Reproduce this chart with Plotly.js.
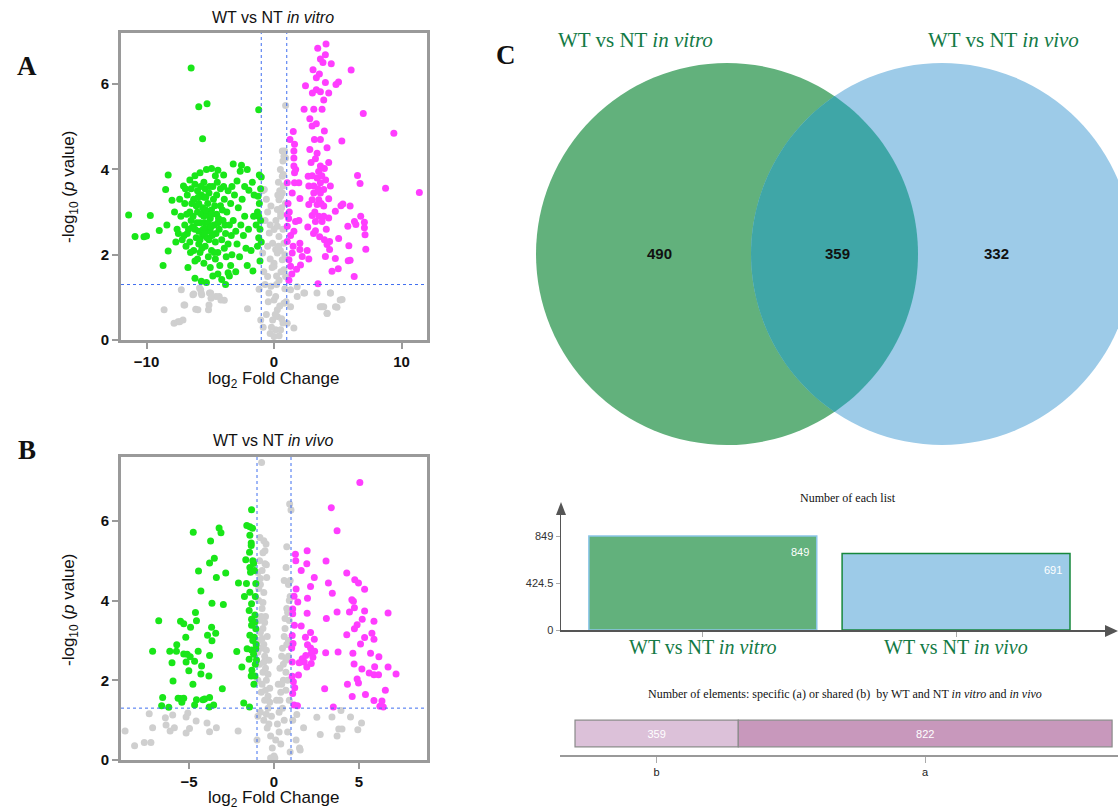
<!DOCTYPE html>
<html><head><meta charset="utf-8">
<script src="https://cdn.plot.ly/plotly-3.0.1.min.js"></script>
<style>html,body{margin:0;padding:0;background:#fff}#chart{width:1118px;height:810px}</style>
</head><body><div id="chart"></div>
<script>
// ---------- DATA ----------
// Panel A: WT vs NT in vitro  [log2FC, -log10 p]
const aDown = [[-6.5,6.38],[-5.9,5.47],[-5.25,5.54],[-5.6,4.72],[-1.2,5.4],
[-11.4,2.93],[-10.9,2.43],[-10.2,2.42],[-10.0,2.44],[-9.7,2.92],[-9.0,2.57],[-8.7,1.75],[-8.3,3.87],[-8.5,3.53],[-8.0,3.28],[-8.3,2.09],[-8.4,2.7],[-7.6,2.6],
[-7.1,3.61],[-6.6,3.75],[-5.8,3.92],[-5.3,4.0],[-4.9,4.02],[-4.4,3.98],[-3.95,3.87],[-3.2,4.13],[-2.55,4.1],[-2.1,4.0],[-2.65,3.96],[-2.9,3.73],[-1.15,3.87],[-1.0,3.82],[-4.6,3.85],[-5.5,3.7],[-6.2,3.85],
[-1.97,3.51],[-1.56,3.4],[-1.25,3.37],[-1.3,3.0],[-1.2,2.9],[-1.05,2.8],[-1.4,2.7],[-1.1,2.6],[-1.2,2.4],[-1.0,2.3],[-1.8,2.1],[-2.1,1.75],[-1.65,1.62],[-1.1,1.85],[-1.3,2.2],[-1.15,3.2],[-1.05,3.55],
[-2.5,3.3],[-2.8,3.1],[-2.3,2.9],[-2.6,2.7],[-3.0,2.55],[-2.4,2.45],[-2.9,2.25],[-2.2,2.15],[-3.3,2.0],[-2.7,1.95],[-3.4,1.75],[-3.0,1.6],[-3.5,1.5],[-3.8,1.3],[-4.1,1.42],[-3.6,1.58],[-4.4,1.55],[-4.8,1.5],[-5.3,1.35],[-5.7,1.38],[-6.2,1.45],[-5.0,1.7],[-5.5,1.8],[-6.0,1.9],[-4.6,1.9],[-5.8,2.05],
[-7.0,3.2],[-6.6,3.0],[-6.3,3.3],[-6.0,3.5],[-5.7,3.4],[-5.4,3.55],[-5.1,3.45],[-4.8,3.6],[-4.5,3.4],[-4.2,3.55],[-3.9,3.3],[-3.6,3.5],[-3.3,3.6],[-7.3,2.9],[-7.0,2.7],[-6.8,2.5],[-6.5,2.8],[-6.2,2.6],[-6.0,3.0],[-5.8,2.75],[-5.6,3.1],[-5.5,2.9],[-5.3,2.6],[-5.2,3.2],[-5.0,2.85],[-4.9,3.05],[-4.7,2.7],[-4.5,2.95],[-4.3,2.6],[-4.2,3.15],[-4.0,2.8],[-3.8,2.5],[-3.7,3.0],[-3.5,2.7],[-3.4,3.2],[-7.2,2.35],[-6.9,2.2],[-6.6,2.3],[-6.3,2.1],[-6.1,2.4],[-5.9,2.25],[-5.6,2.45],[-5.4,2.2],[-5.1,2.35],[-4.9,2.1],[-4.6,2.3],[-4.4,2.05],[-4.1,2.35],[-3.9,2.15],[-6.4,2.65],[-5.9,2.55],[-5.45,2.75],[-5.7,2.95],[-6.1,3.15],[-5.0,2.55],[-4.75,3.3],[-5.25,2.95],[-6.7,2.6],[-7.5,2.5],[-7.8,3.0],[-7.7,2.3],[-3.2,2.8],[-3.1,3.4],[-6.35,2.9],[-5.55,2.6],[-4.55,2.5],[-6.85,2.95],
[-6.8,3.4],[-6.5,3.55],[-6.2,3.65],[-5.9,3.2],[-5.75,3.6],[-5.5,3.35],[-5.35,3.05],[-5.15,2.75],[-5.05,3.6],[-4.85,2.45],[-4.65,3.15],[-4.35,2.85],[-4.05,3.05],[-3.85,2.7],[-3.6,2.25],[-3.35,2.45],[-6.55,2.05],[-6.2,1.85],[-5.65,2.15],[-5.25,2.4],[-4.95,2.65],[-4.7,2.05],[-6.05,2.75],[-6.45,3.2],[-5.95,3.35],[-5.35,3.35],[-4.45,3.7],[-3.95,3.6],[-7.05,2.45],[-7.4,3.3],[-6.75,1.7],[-4.25,1.75],[-3.75,1.95],[-5.15,1.95],[-5.8,2.35],[-5.45,2.5],[-4.9,2.95],[-4.4,2.75],[-6.95,3.55],[-2.0,2.6],[-1.6,2.9],[-1.7,3.7],[-2.3,3.6]];
const aUp = [[4.08,6.94],[3.43,6.84],[4.03,6.69],[3.64,6.59],[3.84,6.51],[4.49,6.48],[6.05,6.33],[3.06,6.34],[3.56,6.24],[3.32,6.15],[4.03,6.04],[5.06,6.05],[4.86,5.99],[2.47,5.96],[3.32,5.87],[3.01,5.79],[3.64,5.82],[4.29,5.79],[3.9,5.63],[3.77,5.41],[2.36,5.41],[3.12,5.41],[7.0,5.31],[2.81,5.19],[2.99,5.02],[3.32,5.07],[3.95,4.9],[1.51,4.89],[9.4,4.85],[5.32,4.67],[3.17,4.7],[3.64,4.7],[4.16,4.51],[1.61,4.59],[1.56,4.43],[2.81,4.47],[3.38,4.38],[1.56,4.27],[1.56,4.08],[2.91,4.16],[3.64,4.08],[4.29,4.16],[1.61,3.92],[2.68,3.84],[3.38,3.8],[3.95,4.02],[6.55,3.86],[6.75,3.67],[1.04,3.69],[1.61,3.69],[1.95,3.69],[2.73,3.61],[3.12,3.61],[3.64,3.69],[4.42,3.61],[3.12,3.45],[3.64,3.45],[3.9,3.53],[8.75,3.56],[11.4,3.46],[1.43,3.45],[2.99,3.29],[3.51,3.29],[4.29,3.31],[2.03,3.32],[2.73,3.18],[3.38,3.18],[3.9,3.14],[5.25,3.15],[5.4,3.19],[5.97,3.14],[1.04,2.94],[1.69,2.78],[1.95,2.8],[2.99,2.92],[3.51,2.9],[3.9,2.9],[4.29,2.86],[4.81,3.02],[3.25,2.78],[3.77,2.78],[6.8,2.9],[6.31,2.78],[5.79,2.67],[6.42,2.71],[7.09,2.76],[7.09,2.63],[7.14,2.47],[1.04,2.67],[1.56,2.55],[2.65,2.65],[3.25,2.56],[3.58,2.42],[3.95,2.35],[4.36,2.31],[5.07,2.38],[4.16,2.24],[4.36,2.12],[1.04,2.31],[2.03,2.27],[2.03,2.12],[2.6,2.1],[5.87,2.21],[7.2,2.13],[1.43,2.04],[2.21,1.96],[2.73,1.9],[4.03,1.96],[4.81,1.91],[5.82,1.86],[5.97,1.87],[1.17,1.88],[1.3,1.73],[2.08,1.76],[1.77,1.66],[4.55,1.61],[5.04,1.67],[6.29,1.49],[1.17,1.4],[3.45,1.32],[1.1,3.2],[1.2,3.0],[1.3,2.45],[1.15,2.85],[1.5,2.2],[1.4,1.55],[1.25,4.7],[1.7,4.0],
[3.5,3.95],[3.25,4.25],[3.75,3.85],[4.05,3.75],[3.0,3.85],[3.45,3.55],[3.2,3.0],[3.7,3.2],[4.1,2.6],[3.1,2.5]];
const aNS = [[-8.62,0.71],[-7.84,0.39],[-7.53,0.43],[-7.14,0.47],[-7.06,0.82],[-7.27,1.18],[-6.3,1.08],[-6.14,0.72],[-5.75,1.18],[-5.67,1.06],[-4.97,1.1],[-5.1,0.82],[-4.3,1.02],[-2.08,0.73],[-1.17,1.19],[-1.04,0.47],
[-6.36,1.06],[-5.71,1.1],[-5.06,1.1],[-4.55,1.02],[-4.16,0.94],[-7.0,0.82],[-5.97,0.71],[-5.14,0.71],[-7.4,0.43],[-3.9,0.93],[-5.84,1.22],[-4.94,0.98],
[1.3,1.18],[1.56,0.28],[1.82,1.25],[2.4,1.1],[3.37,1.1],[3.63,0.78],[3.76,0.78],[4.17,0.62],[4.43,1.1],[4.82,0.78],[5.34,0.95],[2.34,1.1],[4.42,1.1],[5.19,0.94],[3.9,0.78],[4.94,0.77],[4.16,0.63],[1.82,1.02],[1.3,0.78],[1.04,0.39],
[0.91,5.5],[0.65,4.43],[0.78,4.31],[0.73,3.88],[0.65,3.45],[0.39,3.29],[-0.24,3.14],[0.52,2.98],[0.26,2.67],[-0.37,2.51],[-0.11,2.27],[0.26,2.04],[0,1.8],[0.78,1.65],[-0.5,1.49],[-0.24,1.26],[0,0.94],[0.26,0.71],[-0.11,0.47],[0.13,0.24],[0,0.08],[-0.76,3.53],[-0.89,2.04],
[0.83,4.43],[0.91,4.27],[0.65,3.84],[0.73,3.61],[0.52,3.37],[0.26,3.06],[0.52,2.9],[0,2.59],[0.39,2.43],[0.78,2.27],[0.13,2.12],[0.65,1.88],[0,1.73],[0.91,1.49],[0.52,0.24],[0.26,0.55],[0.78,0.86],[0.13,1.02],
[-0.6,3.3],[-0.9,3.5],[-0.7,2.8],[-0.5,2.2],[-0.3,1.9],[-0.8,1.6],[-0.4,1.1],[-0.6,0.6],[-0.2,0.3],[0.4,1.4],[0.6,0.5],[0.2,1.5],[0.5,2.1],[0.35,3.7],[0.5,4.0],[-0.45,0.9],[-0.3,0.15],[0.1,0.6],[0.4,0.1],
[0.45,3.5],[0.6,3.1],[0.7,2.6],[0.35,2.2],[0.55,1.6],[0.85,1.2],[0.2,1.3],[0.7,0.4],[0.45,0.8],[-0.15,1.7],[-0.3,2.7],[-0.5,3.0],[0.15,2.8],[0.85,2.0],[0.7,4.2],[0.9,3.2],[-0.85,0.3],[0.95,0.9],[-0.7,1.3],[0.3,3.4]];

// Panel B: WT vs NT in vivo
const bDown = [[-1.32,6.28],[-1.6,5.88],[-1.42,5.85],[-1.26,5.81],[-4.75,5.71],[-3.23,5.82],[-3.12,5.7],[-1.42,5.64],[-3.73,5.49],[-1.34,5.44],[-1.34,5.38],[-1.44,5.21],[-3.51,5.06],[-3.79,4.94],[-1.66,5.02],[-1.2,4.93],[-1.42,4.83],[-1.38,4.71],[-4.44,4.74],[-2.84,4.69],[-3.39,4.58],[-2.09,4.44],[-1.62,4.43],[-1.07,4.43],[-4.3,4.24],[-1.42,4.21],[-1.74,4.1],[-3.65,3.93],[-2.98,3.9],[-1.32,3.92],[-4.62,3.7],[-1.46,3.75],[-1.12,3.64],[-6.78,3.49],[-5.5,3.48],[-5.31,3.42],[-4.56,3.49],[-1.32,3.53],[-1.12,3.46],[-4.91,3.33],[-1.32,3.38],[-1.07,3.29],[-3.67,3.33],[-3.91,3.13],[-3.43,3.18],[-5.19,3.08],[-3.65,2.99],[-1.42,3.13],[-1.16,3.08],[-5.72,2.89],[-7.14,2.73],[-6.13,2.73],[-5.74,2.73],[-5.31,2.66],[-5.11,2.65],[-4.46,2.73],[-2.19,2.72],[-1.58,2.79],[-1.32,2.76],[-1.07,2.79],[-4.93,2.59],[-3.79,2.62],[-6.0,2.44],[-5.17,2.46],[-4.67,2.48],[-4.26,2.36],[-1.46,2.53],[-1.03,2.51],[-1.89,2.33],[-5.01,2.24],[-4.3,2.16],[-3.83,2.11],[-1.34,2.11],[-1.12,2.11],[-5.94,1.98],[-4.77,1.9],[-1.18,1.9],[-3.04,1.79],[-6.55,1.57],[-5.64,1.55],[-5.42,1.45],[-5.52,1.54],[-5.31,1.55],[-4.56,1.51],[-4.08,1.53],[-3.79,1.57],[-6.61,1.36],[-6.19,1.32],[-4.67,1.38],[-4.18,1.51],[-3.55,1.38],[-3.81,1.33],[-1.78,1.43],[-1.44,1.33],[-1.1,4.1],[-1.25,3.0],[-1.05,2.9],[-1.2,2.65],[-1.1,2.4],[-1.3,2.25],[-1.15,4.75],[-1.25,5.0]];
const bUp = [[5.05,6.96],[3.37,6.33],[3.71,5.75],[1.26,5.16],[1.95,5.25],[1.28,5.0],[1.93,4.92],[3.06,4.99],[1.6,4.75],[2.37,4.58],[4.28,4.69],[3.2,4.44],[4.75,4.52],[4.97,4.44],[2.15,4.35],[3.43,4.18],[5.33,4.28],[1.3,4.29],[1.18,4.11],[1.97,4.06],[4.58,4.02],[4.67,3.98],[1.4,3.96],[4.73,3.82],[1.1,3.79],[3.71,3.71],[4.44,3.71],[5.33,3.74],[6.71,3.69],[1.95,3.68],[1.1,3.67],[3.08,3.55],[5.19,3.53],[5.88,3.48],[1.2,3.38],[1.6,3.36],[4.89,3.39],[4.73,3.29],[5.76,3.18],[2.15,3.2],[4.28,3.14],[1.07,3.12],[1.85,3.08],[2.37,3.03],[5.33,3.07],[5.88,3.03],[5.09,2.91],[1.97,2.89],[1.12,2.92],[1.04,2.81],[2.15,2.81],[2.39,2.73],[2.19,2.67],[3.04,2.69],[3.77,2.71],[4.64,2.68],[5.68,2.68],[6.17,2.59],[1.87,2.62],[1.66,2.54],[2.29,2.58],[1.78,2.46],[1.48,2.44],[1.07,2.46],[4.71,2.41],[2.19,2.42],[1.93,2.33],[5.92,2.34],[6.71,2.33],[5.17,2.28],[5.6,2.18],[5.88,2.14],[6.15,2.14],[7.18,2.16],[1.44,2.13],[1.07,2.1],[4.89,2.03],[4.97,1.93],[4.32,1.9],[1.14,1.96],[2.98,1.79],[1.22,1.81],[6.55,1.75],[1.1,1.67],[4.6,1.59],[5.38,1.64],[5.88,1.49],[6.35,1.48],[6.23,1.35],[6.43,1.33],[1.18,1.38],[1.38,1.36],[3.49,1.33]];
const bNS = [[-0.73,7.46],[0.92,6.42],[1.0,6.27],[-0.83,5.58],[-0.6,5.5],[-0.47,5.42],[-0.53,5.25],[0.75,5.35],[0.71,4.83],[-0.53,4.92],[-0.43,4.58],[-0.95,4.7],[-0.8,4.4],[-0.6,4.2],[-0.9,4.0],[-0.7,3.8],[-0.5,3.6],[-0.85,3.5],[-0.65,3.3],[-0.4,3.1],[-0.9,3.0],[-0.75,2.8],[-0.55,2.6],[-0.3,2.5],[-0.85,2.4],[-0.65,2.2],[-0.45,2.0],[-0.25,1.8],[-0.75,1.7],[-0.55,1.5],[-0.35,1.3],[-0.15,1.1],[-0.6,1.0],[-0.4,0.8],[-0.2,0.6],[-0.1,0.3],[0.0,0.1],[0.1,0.5],[0.2,0.9],[0.3,1.2],[0.15,1.5],[0.4,1.7],[0.55,2.0],[0.35,2.3],[0.7,2.5],[0.5,2.8],[0.85,3.0],[0.65,3.3],[0.9,3.5],[0.75,3.8],[0.95,4.1],[0.85,4.4],[0.6,4.5],[0.95,4.5],[0.8,2.0],[0.9,1.5],[0.6,1.0],[0.8,0.7],[0.4,0.4],[-0.8,3.2],[-0.95,2.0],[-0.3,0.9],[1.1,1.0],[1.3,0.5],[1.5,0.3],[0.95,0.2],[-1.0,0.5],[-0.95,1.1],[-0.7,4.75],[-0.85,5.0],
[-0.9,4.3],[-0.75,3.6],[-0.6,2.9],[-0.95,2.7],[-0.5,2.3],[-0.7,1.9],[-0.35,1.6],[-0.8,1.2],[0.25,1.9],[0.45,2.6],[0.6,3.1],[0.7,2.2],[0.3,0.7],[0.5,1.3],[-0.2,0.05],[0.05,0.05],[0.8,3.7],[-0.65,5.2],[-0.45,4.9],
[-0.8,4.55],[-0.65,3.95],[-0.55,3.45],[-0.7,3.05],[-0.45,2.75],[-0.6,2.45],[-0.35,2.15],[-0.5,1.75],[-0.25,1.45],[-0.45,1.15],[0.65,3.55],[0.75,2.9],[0.55,2.4],[0.45,1.9],[0.35,1.5],[0.7,1.75],[0.85,2.6],[0.9,4.0],
[-8.76,0.73],[-8.2,0.36],[-7.63,0.44],[-7.24,0.44],[-7.34,1.16],[-7.14,0.81],[-6.39,1.06],[-6.11,0.73],[-5.86,0.81],[-5.96,1.13],[-5.17,1.08],[-4.97,0.79],[-5.07,1.18],[-4.58,0.98],[-3.94,0.93],[-3.79,0.71],[-3.39,0.81],[-2.11,0.73],[-5.17,0.68],[-6.35,0.88],
[2.52,1.07],[3.41,1.08],[3.94,1.24],[4.5,1.08],[5.15,0.93],[4.93,0.76],[3.81,0.78],[4.0,0.78],[3.71,0.6],[2.72,0.64],[1.54,0.25],[1.74,0.81],[1.34,1.14]];

const fcCut = 1;            // |log2 FC| threshold
const pCut = 1.301;         // -log10(0.05)

// Panel C
const vennLabels = ['WT vs NT <i>in vitro</i>', 'WT vs NT <i>in vivo</i>'];
const vennOnly = [490, 332];
const vennShared = 359;
const listCats = ['WT vs NT in vitro', 'WT vs NT in vivo'];
const listTotals = [849, 691];
const listTicks = [0, 424.5, 849];
const elemCats = ['b', 'a'];
const elemCounts = [359, 822];

// ---------- HELPERS ----------
const W = 1118, H = 810;
const px = v => v / W, py = v => 1 - v / H;
const X = a => a.map(p => p[0]), Y = a => a.map(p => p[1]);

const GREY = '#cfcfcf', GREEN = '#19e619', MAG = '#ff3dff';
function pts(arr, col, xa, ya) {
  return {type: 'scatter', mode: 'markers', x: X(arr), y: Y(arr), xaxis: xa, yaxis: ya,
    marker: {color: col, size: 7, line: {width: 0}}, hoverinfo: 'skip'};
}

const traces = [
  pts(aNS, GREY, 'x', 'y'), pts(aDown, GREEN, 'x', 'y'), pts(aUp, MAG, 'x', 'y'),
  pts(bNS, GREY, 'x2', 'y2'), pts(bDown, GREEN, 'x2', 'y2'), pts(bUp, MAG, 'x2', 'y2'),
  {type: 'bar', x: [0, 1], y: listTotals, xaxis: 'x3', yaxis: 'y3', width: 0.9,
    marker: {color: ['#62b17c', '#9dcbe8'], line: {color: ['#8cc6e8', '#17883c'], width: 1.5}}, hoverinfo: 'skip'},
  {type: 'bar', orientation: 'h', y: [0.5], x: [elemCounts[0]], base: [0], xaxis: 'x4', yaxis: 'y4', width: 0.62,
    text: [String(elemCounts[0])], textposition: 'inside', insidetextanchor: 'middle',
    textfont: {color: '#fff', size: 11, family: 'Arial'},
    marker: {color: '#dcc1d9', line: {color: '#8a8a8a', width: 1.2}}, hoverinfo: 'skip'},
  {type: 'bar', orientation: 'h', y: [0.5], x: [elemCounts[1]], base: [elemCounts[0]], xaxis: 'x4', yaxis: 'y4', width: 0.62,
    text: [String(elemCounts[1])], textposition: 'inside', insidetextanchor: 'middle',
    textfont: {color: '#fff', size: 11, family: 'Arial'},
    marker: {color: '#c898bc', line: {color: '#8a8a8a', width: 1.2}}, hoverinfo: 'skip'}
];

const volcAxis = (dom, rng, tv) => ({domain: dom, range: rng, tickvals: tv, showline: true, mirror: true,
  linecolor: '#9a9a9a', linewidth: 3, ticks: 'outside', ticklen: 6, tickwidth: 2, tickcolor: '#9a9a9a',
  tickfont: {family: 'Arial', size: 15, color: '#111', weight: 'bold'}, showgrid: false, zeroline: false, fixedrange: true});

const layout = {
  width: W, height: H, margin: {l: 0, r: 0, t: 0, b: 0}, showlegend: false,
  paper_bgcolor: '#fff', plot_bgcolor: 'rgba(0,0,0,0)', barmode: 'overlay',
  xaxis: Object.assign(volcAxis([px(121), px(427)], [-12, 12], [-10, 0, 10]), {anchor: 'y'}),
  yaxis: Object.assign(volcAxis([py(340), py(33)], [0, 7.2], [0, 2, 4, 6]), {anchor: 'x'}),
  xaxis2: Object.assign(volcAxis([px(121), px(427)], [-9, 9], [-5, 0, 5]), {anchor: 'y2'}),
  yaxis2: Object.assign(volcAxis([py(760), py(457)], [0, 7.6], [0, 2, 4, 6]), {anchor: 'x2'}),
  xaxis3: {domain: [px(561), px(1108)], anchor: 'y3', range: [-0.56, 1.6],
    tickvals: [0, 1], showticklabels: false, showline: true, linecolor: '#555', linewidth: 1.5,
    ticks: 'outside', ticklen: 5, tickcolor: '#aaa', showgrid: false, zeroline: false},
  yaxis3: {domain: [py(630), py(510)], anchor: 'x3', range: [0, 1085], tickvals: listTicks,
    ticktext: listTicks.map(String), showline: true, linecolor: '#555', linewidth: 1.5,
    ticks: 'outside', ticklen: 4, tickcolor: '#aaa', showgrid: false, zeroline: false,
    tickfont: {family: 'Arial', size: 11, color: '#333'}},
  xaxis4: {domain: [px(560), 1], anchor: 'y4', range: [-33, 1194],
    tickvals: [elemCounts[0] / 2, elemCounts[0] + elemCounts[1] / 2], ticktext: elemCats,
    showline: true, linecolor: '#999', linewidth: 2, ticks: 'outside', ticklen: 6, tickcolor: '#aaa',
    showgrid: false, zeroline: false, tickfont: {family: 'Arial', size: 11, color: '#222'}},
  yaxis4: {domain: [py(755), py(712)], anchor: 'x4', range: [0, 1], visible: false},
  shapes: [], annotations: []
};

// threshold lines
[['x', 'y'], ['x2', 'y2']].forEach(([xa, ya]) => {
  const ln = {color: '#3f6ef0', width: 1, dash: 'dot'};
  [-fcCut, fcCut].forEach(v => layout.shapes.push({type: 'line', xref: xa, yref: ya + ' domain',
    x0: v, x1: v, y0: 0, y1: 1, line: ln}));
  layout.shapes.push({type: 'line', xref: xa + ' domain', yref: ya, x0: 0, x1: 1, y0: pCut, y1: pCut, line: ln});
});

// Venn diagram (two equal circles)
const R = 191, cy = 254, c1 = 727, c2 = 942;
layout.shapes.push({type: 'circle', xref: 'paper', yref: 'paper', x0: px(c1 - R), x1: px(c1 + R), y0: py(cy + R), y1: py(cy - R),
  fillcolor: '#62b17c', line: {width: 0}, layer: 'below'});
layout.shapes.push({type: 'circle', xref: 'paper', yref: 'paper', x0: px(c2 - R), x1: px(c2 + R), y0: py(cy + R), y1: py(cy - R),
  fillcolor: '#9dcbe8', line: {width: 0}, layer: 'below'});
(function lens() {
  const a = Math.acos(((c2 - c1) / 2) / R), n = 60, p = [];
  for (let i = 0; i <= n; i++) { const t = -a + 2 * a * i / n; p.push([c1 + R * Math.cos(t), cy - R * Math.sin(t)]); }
  for (let i = 0; i <= n; i++) { const t = Math.PI - a + 2 * a * i / n; p.push([c2 + R * Math.cos(t), cy - R * Math.sin(t)]); }
  const path = 'M ' + p.map(q => px(q[0]).toFixed(5) + ',' + py(q[1]).toFixed(5)).join(' L ') + ' Z';
  layout.shapes.push({type: 'path', xref: 'paper', yref: 'paper', path: path, fillcolor: '#3fa6a7', line: {width: 0}, layer: 'below'});
})();

// axis arrows for the "Number of each list" chart
layout.shapes.push({type: 'path', xref: 'paper', yref: 'paper', fillcolor: '#555', line: {width: 0},
  path: `M ${px(561)},${py(502)} L ${px(556)},${py(515)} L ${px(566)},${py(515)} Z`});
layout.shapes.push({type: 'path', xref: 'paper', yref: 'paper', fillcolor: '#555', line: {width: 0},
  path: `M ${px(1118)},${py(631)} L ${px(1105)},${py(625)} L ${px(1105)},${py(637)} Z`});

// annotations
const ann = (x, y, text, font, extra) => layout.annotations.push(Object.assign({xref: 'paper', yref: 'paper',
  x: px(x), y: py(y), text: text, showarrow: false, font: font, xanchor: 'center', yanchor: 'middle'}, extra || {}));
const arial = (s, c, w) => ({family: 'Arial', size: s, color: c || '#111', weight: w || 'normal'});
const serif = (s, c, w) => ({family: 'Liberation Serif', size: s, color: c || '#111', weight: w || 'normal'});

ann(273, 17, 'WT vs NT <i>in vitro</i>', arial(16));
ann(273, 440, 'WT vs NT <i>in vivo</i>', arial(16));
ann(273, 380, 'log<sub>2</sub> Fold Change', arial(17));
ann(273, 799, 'log<sub>2</sub> Fold Change', arial(17));
ann(70, 187, '-log<sub>10</sub> (<i>p</i> value)', arial(17), {textangle: -90});
ann(70, 610, '-log<sub>10</sub> (<i>p</i> value)', arial(17), {textangle: -90});
ann(27, 66, 'A', serif(27, '#111', 'bold'));
ann(27, 450, 'B', serif(27, '#111', 'bold'));
ann(506, 55, 'C', serif(27, '#111', 'bold'));
ann(635, 40, vennLabels[0], serif(21, '#137a45'));
ann(1003, 40, vennLabels[1], serif(21, '#137a45'));
ann(659, 254, String(vennOnly[0]), arial(15, '#111', 'bold'));
ann(837, 254, String(vennShared), arial(15, '#111', 'bold'));
ann(996, 254, String(vennOnly[1]), arial(15, '#111', 'bold'));
ann(848, 498, 'Number of each list', serif(12));
ann(845, 694, 'Number of elements: specific (a) or shared (b)  by WT and NT <i>in vitro</i> and <i>in vivo</i>', serif(12));
listTotals.forEach((v, i) => {
  layout.annotations.push({xref: 'x3', yref: 'y3', x: i + 0.45, y: v, text: String(v),
    showarrow: false, xanchor: 'right', yanchor: 'top', xshift: -6, yshift: -8, font: arial(11, '#fff')});
  layout.annotations.push({xref: 'x3', yref: 'paper', x: i, y: py(647), text: vennLabels[i],
    showarrow: false, xanchor: 'center', yanchor: 'middle', font: serif(20, '#137a45')});
});

Plotly.newPlot('chart', traces, layout, {staticPlot: true, displayModeBar: false});
</script></body></html>
